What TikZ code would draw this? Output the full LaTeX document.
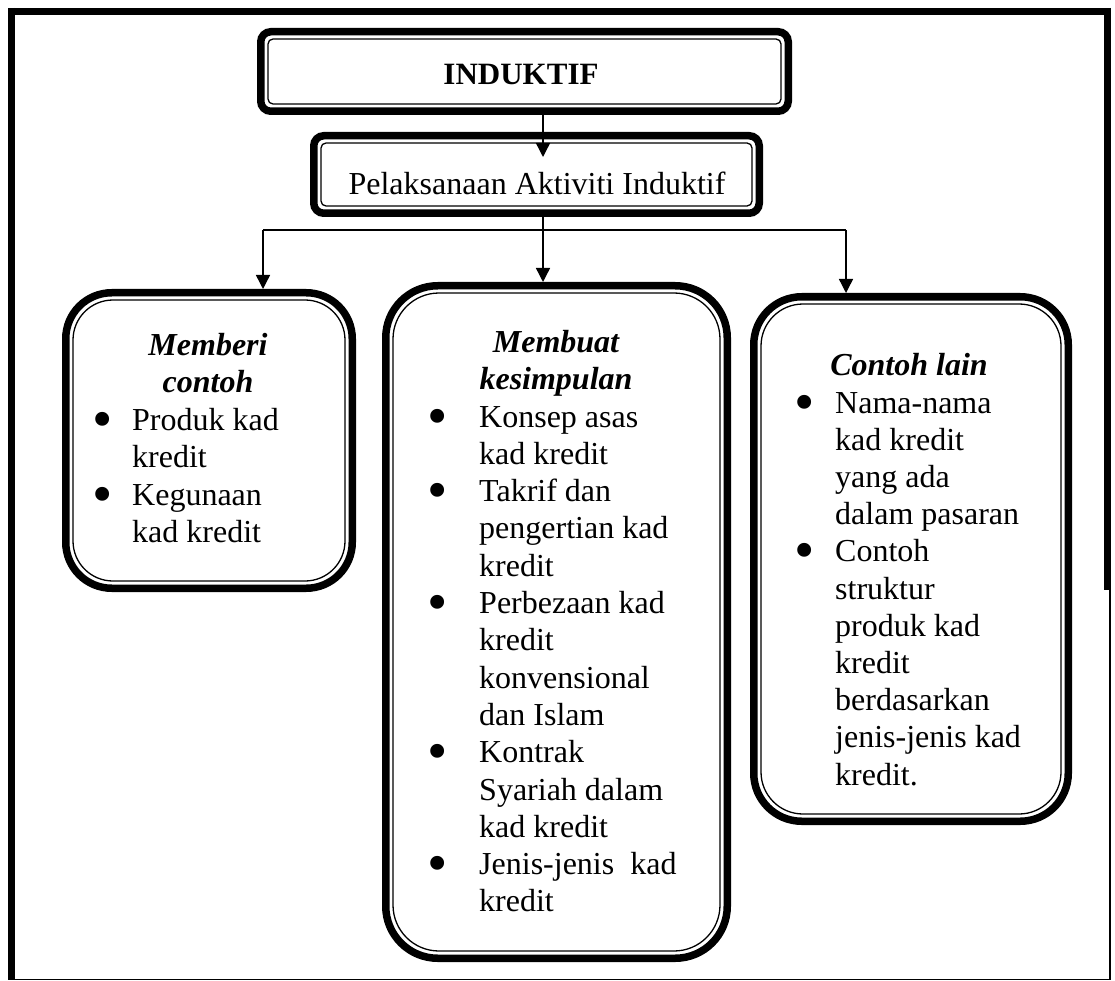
\documentclass[tikz,border=0pt]{standalone}
\usepackage{fontspec}
\setmainfont{Liberation Serif}
\usetikzlibrary{arrows.meta}
\begin{document}
\begin{tikzpicture}[x=1pt,y=-1pt,
  outerb/.style={draw, line width=7.5pt, inner sep=0pt, rectangle},
  innerb/.style={draw, line width=1.3pt, inner sep=0pt, rectangle},
  txt/.style={inner sep=0pt, font=\fontsize{32}{37.3}\selectfont},
  hd/.style={inner sep=0pt, font=\fontsize{32}{37.3}\selectfont\bfseries\itshape, anchor=base},
  bul/.style={inner sep=0pt, anchor=base, yshift=-8pt, font=\fontsize{58}{58}\selectfont},
  itm/.style={txt, anchor=base west},
  conn/.style={line width=1.4pt},
  arr/.style={conn, -{Triangle[length=14pt,width=14pt]}},
  frameline/.style={line width=7pt}
]
\useasboundingbox (0,0) rectangle (1115,981);
\fill[white] (0,0) rectangle (1115,981);

% outer frame
\draw[frameline] (8,11.5) -- (1111,11.5);
\draw[frameline] (11.5,8) -- (11.5,980);
\draw[frameline] (1107.5,8) -- (1107.5,590);
\draw[line width=1.5pt] (1110,590) -- (1110,979.5);
\draw[line width=1.5pt] (8,979.5) -- (1111,979.5);

% top boxes
\node[outerb, minimum width=527.5pt, minimum height=79.5pt, rounded corners=10pt] (ind) at (524.5,71.5) {};
\node[innerb, minimum width=513pt, minimum height=65pt, rounded corners=5pt] (ind-in) at (ind.center) {};
\node[txt, font=\fontsize{31}{37.3}\selectfont\bfseries, anchor=base] (indt) at (521,85) {INDUKTIF};

\node[outerb, minimum width=445.5pt, minimum height=77.5pt, rounded corners=10pt] (pel) at (536.5,174.5) {};
\node[innerb, minimum width=431pt, minimum height=63pt, rounded corners=5pt] (pel-in) at (pel.center) {};
\node[txt, anchor=base] (pelt) at (537,195) {Pelaksanaan Aktiviti Induktif};

% lower boxes
\node[outerb, minimum width=286.5pt, minimum height=295.5pt, rounded corners=46pt] (lft) at (209,440.5) {};
\node[innerb, minimum width=272pt, minimum height=281pt, rounded corners=40pt] (lft-in) at (lft.center) {};

\node[outerb, minimum width=341.5pt, minimum height=672.5pt, rounded corners=52pt] (mid) at (556.5,622) {};
\node[innerb, minimum width=327pt, minimum height=658pt, rounded corners=46pt] (mid-in) at (mid.center) {};

\node[outerb, minimum width=314.5pt, minimum height=524.5pt, rounded corners=48pt] (rgt) at (911,559) {};
\node[innerb, minimum width=300pt, minimum height=510pt, rounded corners=42pt] (rgt-in) at (rgt.center) {};

% connectors
\coordinate (ax) at (543,0);
\coordinate (hl) at (263,230);
\coordinate (hr) at (846,230);
\draw[arr] (ind.south -| ax) -- ([yshift=-25pt]pel.north -| ax);
\draw[arr] (pel.south -| ax) -- (mid.north -| ax);
\draw[conn] (hl) -- (hr);
\draw[arr] (hl) -- (lft.north -| hl);
\draw[arr] (hr) -- (rgt.north -| hr);

% left box text
\node[hd] (lh1) at (208,355) {Memberi};
\node[hd] (lh2) at (208,392.5) {contoh};
\node[bul] (lb1) at (103,430) {•};
\node[bul] (lb2) at (103,505) {•};
\foreach \t [count=\i from 0] in {{Produk kad},{kredit},{Kegunaan},{kad kredit}}
  \node[itm] (lt\i) at (132,{430+37.6*\i}) {\t};

% middle box text
\node[hd] (mh1) at (556,352) {Membuat};
\node[hd] (mh2) at (556,389.5) {kesimpulan};
\foreach \k in {0,2,5,9,12}
  \node[bul] (mb\k) at (438,{427+37.3*\k}) {•};
\foreach \t [count=\i from 0] in {{Konsep asas},{kad kredit},{Takrif dan},{pengertian kad},{kredit},{Perbezaan kad},{kredit},{konvensional},{dan Islam},{Kontrak},{Syariah dalam},{kad kredit},{Jenis-jenis~~kad},{kredit}}
  \node[itm] (mt\i) at (479,{427+37.3*\i}) {\t};

% right box text
\node[hd] (rh1) at (909,375.5) {Contoh lain};
\foreach \k in {0,4}
  \node[bul] (rb\k) at (805,{413+37.2*\k}) {•};
\foreach \t [count=\i from 0] in {{Nama-nama},{kad kredit},{yang ada},{dalam pasaran},{Contoh},{struktur},{produk kad},{kredit},{berdasarkan},{jenis-jenis kad},{kredit.}}
  \node[itm] (rt\i) at (835,{413+37.2*\i}) {\t};
\end{tikzpicture}
\end{document}
